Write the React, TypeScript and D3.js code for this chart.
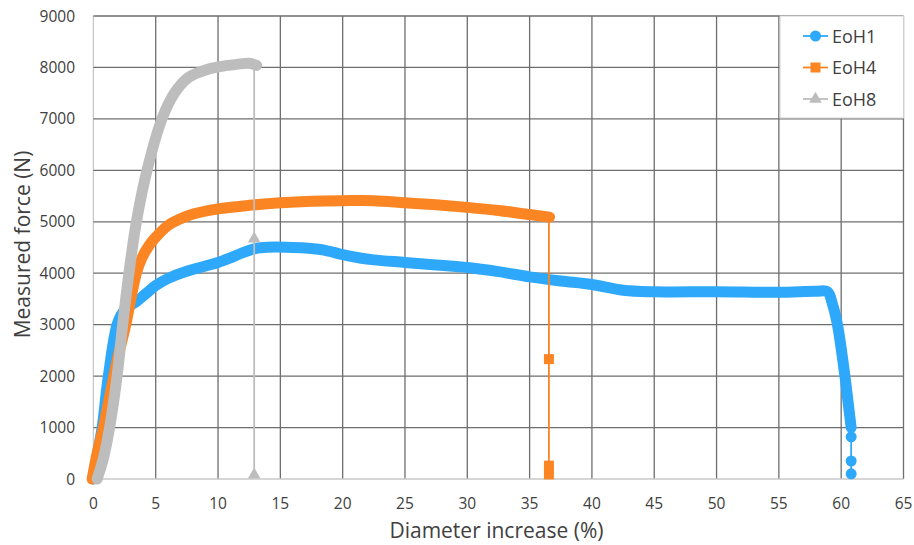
import React, { useEffect, useRef } from 'react';
import * as d3 from 'd3';

// ticks
const xTicks = [0, 5, 10, 15, 20, 25, 30, 35, 40, 45, 50, 55, 60, 65];
const yTicks = [0, 1000, 2000, 3000, 4000, 5000, 6000, 7000, 8000, 9000];

// EoH1 (dense part + sparse end points), [diameter %, force N]
const eoh1Curve: [number, number][] = [
  [0, 0], [0.3, 450], [0.7, 1000], [1.2, 2000], [1.9, 3000], [2.4, 3250], [3.0, 3380],
  [3.5, 3460], [4.2, 3600], [5, 3760], [6, 3900], [7.5, 4040], [9, 4140], [10, 4210],
  [11, 4300], [12, 4400], [13, 4480], [14, 4505], [15.5, 4505], [17, 4490], [18.5, 4450], [20, 4360],
  [21.5, 4290], [22.5, 4260], [25, 4210], [27.5, 4160], [30, 4110], [32.5, 4030], [35, 3930],
  [37.5, 3850], [40, 3780], [42.5, 3670], [45, 3640], [50, 3640], [55, 3630], [58, 3650],
  [58.9, 3640], [59.3, 3400], [59.7, 3000], [60.3, 2000], [60.6, 1400], [60.8, 1000],
];
const eoh1Tail: [number, number][] = [[60.8, 1000], [60.8, 820], [60.8, 350], [60.8, 100]];

// EoH4
const eoh4Curve: [number, number][] = [
  [-0.1, 0], [0.3, 500], [0.8, 1000], [1.3, 1600], [1.9, 2300], [2.6, 3000], [3.0, 3500],
  [3.45, 4000], [3.9, 4300], [4.5, 4550], [5, 4700], [6, 4930], [7, 5060], [8, 5150],
  [10, 5250], [12.5, 5320], [15, 5370], [17.5, 5400], [20, 5410], [22.5, 5410], [25, 5370],
  [27.5, 5330], [30, 5280], [32.5, 5220], [35, 5140], [36.6, 5090],
];
const eoh4Tail: [number, number][] = [[36.55, 5090], [36.55, 2330], [36.55, 260], [36.55, 90]];

// EoH8
const eoh8Curve: [number, number][] = [
  [0.3, 0], [0.8, 400], [1.3, 1000], [1.9, 2000], [2.35, 3000], [2.85, 4000], [3.45, 5000],
  [4.3, 6000], [5.5, 7000], [6.5, 7500], [7.6, 7800], [9, 7950], [10, 8010], [11.5, 8060],
  [12.5, 8080], [13.1, 8040],
];
const eoh8Tail: [number, number][] = [[12.9, 8040], [12.9, 4670], [12.9, 80]];

const seriesNames = ['EoH1', 'EoH4', 'EoH8'];
const colors = ['#2ea8fa', '#fb8423', '#bdbdbd'];

const W = 914;
const H = 545;
const left = 93.4, right = 903.5, top = 16, bottom = 479;

function App() {
  const ref = useRef<SVGSVGElement>(null);

  useEffect(() => {
    const svg = d3.select(ref.current);
    svg.selectAll('*').remove();
    const font = "'Open Sans', sans-serif";
    const textColor = '#404040';

    const x = d3.scaleLinear().domain([0, 65]).range([left, right]);
    const y = d3.scaleLinear().domain([0, 9000]).range([bottom, top]);

    // grid
    const grid = svg.append('g');
    grid.selectAll('line.v').data(xTicks).enter().append('line')
      .attr('x1', d => x(d)).attr('x2', d => x(d))
      .attr('y1', top).attr('y2', bottom)
      .attr('stroke', d => (d === 0 ? '#c8c8c8' : '#6e6e6e'))
      .attr('stroke-width', 1.3);
    grid.selectAll('line.h').data(yTicks).enter().append('line')
      .attr('x1', left).attr('x2', right)
      .attr('y1', d => y(d)).attr('y2', d => y(d))
      .attr('stroke', d => (d === 0 ? '#c8c8c8' : '#6e6e6e'))
      .attr('stroke-width', 1.3);

    // tick labels
    svg.append('g').selectAll('text').data(yTicks).enter().append('text')
      .attr('x', 75).attr('y', d => y(d) + 5.5)
      .attr('text-anchor', 'end')
      .attr('font-family', font).attr('font-size', 15.5).attr('fill', textColor)
      .text(d => d);
    svg.append('g').selectAll('text').data(xTicks).enter().append('text')
      .attr('x', d => x(d)).attr('y', 508.5)
      .attr('text-anchor', 'middle')
      .attr('font-family', font).attr('font-size', 15.5).attr('fill', textColor)
      .text(d => d);

    // axis titles
    svg.append('text')
      .attr('transform', `translate(29.5,${(top + bottom) / 2 - 3}) rotate(-90)`)
      .attr('text-anchor', 'middle')
      .attr('font-family', font).attr('font-size', 21).attr('fill', textColor)
      .text('Measured force (N)');
    svg.append('text')
      .attr('x', (left + right) / 2 - 2).attr('y', 538)
      .attr('text-anchor', 'middle')
      .attr('font-family', font).attr('font-size', 21).attr('fill', textColor)
      .text('Diameter increase (%)');

    const line = d3.line<[number, number]>().x(d => x(d[0])).y(d => y(d[1]));
    const smooth = d3.line<[number, number]>()
      .x(d => x(d[0])).y(d => y(d[1]))
      .curve(d3.curveCatmullRom.alpha(0.5));

    // marker shapes
    const symbols = [d3.symbolCircle, d3.symbolSquare, d3.symbolTriangle];
    const sizes = [95, 100, 70];

    const curves = [eoh1Curve, eoh4Curve, eoh8Curve];
    const tails = [eoh1Tail, eoh4Tail, eoh8Tail];

    curves.forEach((c, i) => {
      const g = svg.append('g');
      // thin drop line
      g.append('path').datum(tails[i])
        .attr('d', line).attr('fill', 'none')
        .attr('stroke', colors[i]).attr('stroke-width', 1.8);
      // dense markers show up as a thick band
      g.append('path').datum(c)
        .attr('d', smooth).attr('fill', 'none')
        .attr('stroke', colors[i]).attr('stroke-width', 11)
        .attr('stroke-linejoin', 'round').attr('stroke-linecap', 'round');
      g.selectAll('path.m').data(tails[i].slice(1)).enter().append('path')
        .attr('d', d3.symbol().type(symbols[i]).size(sizes[i]))
        .attr('transform', d => `translate(${x(d[0])},${y(d[1])})`)
        .attr('fill', colors[i]);
    });

    // legend
    const lg = svg.append('g');
    lg.append('rect')
      .attr('x', 780).attr('y', top).attr('width', right - 780).attr('height', 102)
      .attr('fill', '#fff').attr('stroke', '#d0d0d0').attr('stroke-width', 1);
    seriesNames.forEach((n, i) => {
      const ly = 36 + i * 31.5;
      lg.append('line')
        .attr('x1', 803).attr('x2', 828).attr('y1', ly).attr('y2', ly)
        .attr('stroke', colors[i]).attr('stroke-width', 1.8);
      lg.append('path')
        .attr('d', d3.symbol().type(symbols[i]).size(sizes[i])())
        .attr('transform', `translate(815.5,${ly})`)
        .attr('fill', colors[i]);
      lg.append('text')
        .attr('x', 832).attr('y', ly + 6.5)
        .attr('font-family', font).attr('font-size', 18).attr('fill', textColor)
        .text(n);
    });
  }, []);

  return (
    <svg ref={ref} width={W} height={H}
      style={{ position: 'absolute', left: 0, top: 0, background: '#fff' }} />
  );
}

export default App;
